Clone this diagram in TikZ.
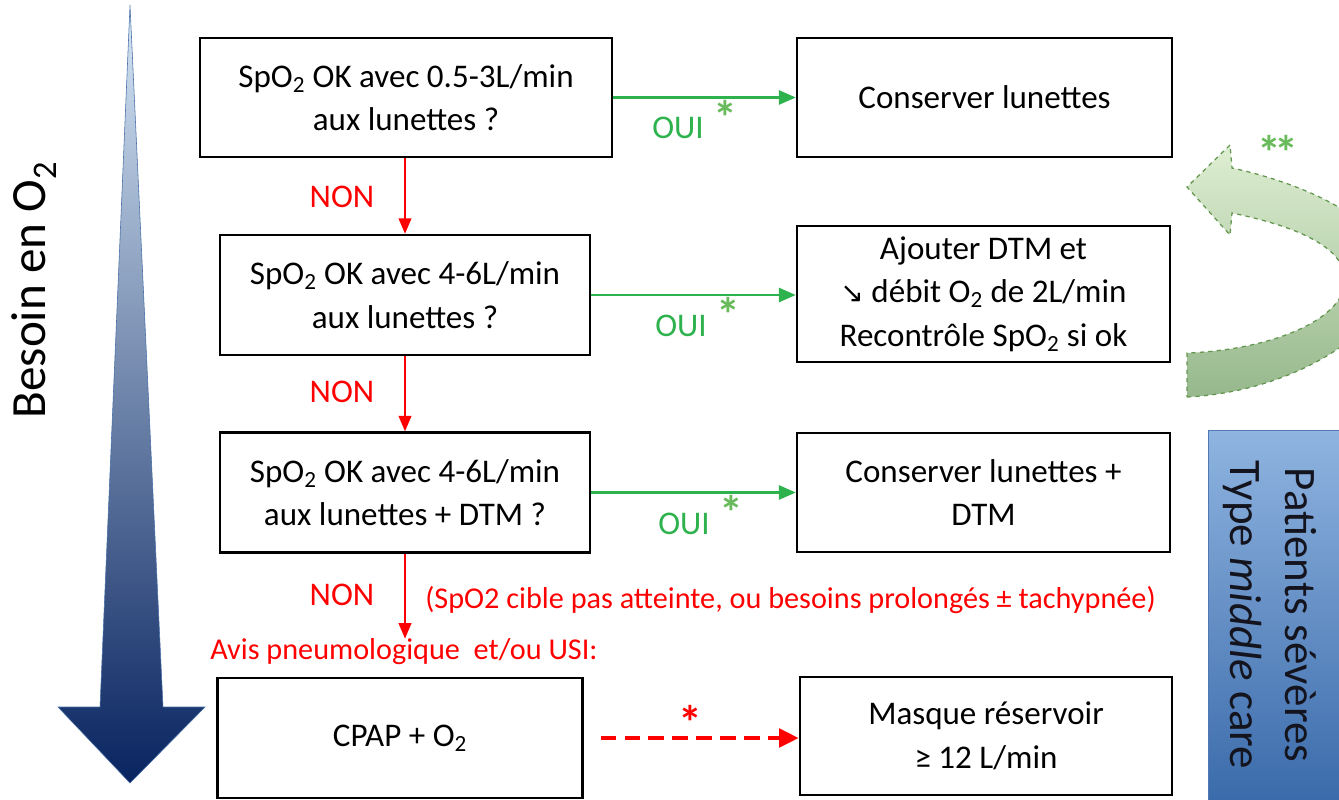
\documentclass[tikz,border=0pt]{standalone}
\usepackage{fontspec}
\setmainfont{Carlito}
\newfontfamily\arrowfont{DejaVu Sans}
\usetikzlibrary{arrows.meta}
\definecolor{ouigreen}{RGB}{46,178,78}
\definecolor{nonred}{RGB}{255,0,0}
\definecolor{stargreen}{RGB}{104,186,90}
\newcommand\bigstar{{\fontsize{34}{34}\selectfont\bfseries *}}
\tikzset{%
  box/.style={draw, line width=1.7pt, fill=white, align=center, inner sep=0pt,
    font=\fontsize{23.5}{31}\selectfont},
  yes/.style={draw=ouigreen, line width=1.8pt, -{Triangle[length=12pt,width=10pt]}},
  no/.style={draw=nonred, line width=1.4pt, -{Triangle[length=11pt,width=9pt]}},
  ouilabel/.style={text=ouigreen, anchor=base west, inner sep=0pt,
    font=\fontsize{23.5}{28}\selectfont},
  nonlabel/.style={text=nonred, inner sep=0pt, font=\fontsize{23.5}{28}\selectfont},
  redtext/.style={text=nonred, inner sep=0pt, anchor=west,
    font=\fontsize{21.5}{26}\selectfont}
}

\begin{document}
\begin{tikzpicture}[x=0.025cm, y=-0.025cm]
  \useasboundingbox (0,0) rectangle (1339,800);

  % left gradient arrow
  \shade[draw={rgb,255:red,70;green,110;blue,165}, line width=0.4pt,
    top color={rgb,255:red,214;green,230;blue,245},
    middle color={rgb,255:red,160;green,190;blue,222},
    bottom color={rgb,255:red,8;green,36;blue,96}]
    (130,5) -- (163,707) -- (205,707) -- (130,783) -- (58,707) -- (100,707) -- cycle;
  \node (besoin) [rotate=90, font=\fontsize{35}{40}\selectfont] at (34,290)
    {Besoin en O\textsubscript{2}};

  % questions
  \node (b1) [box, minimum width=10.3cm, minimum height=2.975cm] at (406,97.5)
    {SpO\textsubscript{2} OK avec 0.5-3L/min\\aux lunettes ?};
  \node (b2) [box, minimum width=9.25cm, minimum height=3cm] at (405,295)
    {SpO\textsubscript{2} OK avec 4-6L/min\\aux lunettes ?};
  \node (b3) [box, minimum width=9.25cm, minimum height=3cm] at (405,492.5)
    {SpO\textsubscript{2} OK avec 4-6L/min\\aux lunettes + DTM ?};
  \node (b4) [box, minimum width=9.125cm, minimum height=3cm] at (400,738)
    {CPAP + O\textsubscript{2}};

  % answers
  \node (r1) [box, minimum width=9.375cm, minimum height=2.975cm] at (984.5,97.5)
    {Conserver lunettes};
  \node (r2) [box, minimum width=9.325cm, minimum height=3.4cm] at (983.5,294)
    {Ajouter DTM et\\{\arrowfont\fontsize{20}{28}\selectfont ↘} débit O\textsubscript{2} de 2L/min\\Recontrôle SpO\textsubscript{2} si ok};
  \node (r3) [box, minimum width=9.325cm, minimum height=2.975cm] at (983.5,492.5)
    {Conserver lunettes +\\DTM};
  \node (r4) [box, minimum width=9.3cm, minimum height=2.95cm] at (986,736)
    {Masque réservoir\\≥ 12 L/min};

  \draw[yes] (b1.east) -- (r1.west);
  \draw[yes] (b2.east) -- (r2.west |- b2.east);
  \draw[yes] (b3.east) -- (r3.west);
  \node (o1) [ouilabel] at (652,139) {OUI\hspace{0.3em}\raisebox{3pt}{\textcolor{stargreen}{\bigstar}}};
  \node (o2) [ouilabel] at (655,336) {OUI\hspace{0.3em}\raisebox{3pt}{\textcolor{stargreen}{\bigstar}}};
  \node (o3) [ouilabel] at (658,534) {OUI\hspace{0.3em}\raisebox{3pt}{\textcolor{stargreen}{\bigstar}}};

  \draw[no] (b1.south -| 405,0) -- (b2.north -| 405,0);
  \draw[no] (b2.south) -- (b3.north);
  \node (n1) [nonlabel] at (342,197) {NON};
  \node (n2) [nonlabel] at (342,392) {NON};
  \node (n3) [nonlabel] at (342,595) {NON};

  \node (note) [redtext] at (425,600)
    {(SpO2 cible pas atteinte, ou besoins prolongés ± tachypnée)};
  \node (avis) [redtext] at (210,652) {Avis pneumologique\ \ et/ou USI:};
  \draw[no] (b3.south) -- (b3.south |- avis.north);

  \draw[draw=nonred, line width=3pt, dash pattern=on 11pt off 6pt,
    -{Triangle[length=14pt,width=13pt]}, shorten <=12pt] (b4.east) -- (r4.west |- b4.east);
  \node (s4) [text=nonred] at (690,722) {\bigstar};

  % curved return arrow
  \begin{scope}
    \clip (0,0) rectangle (1339,800);
    \shade[draw={rgb,255:red,100;green,150;blue,80}, dashed, line width=0.9pt,
      top color={rgb,255:red,222;green,238;blue,210},
      bottom color={rgb,255:red,150;green,184;blue,140}]
      (1187,397) .. controls (1290,392) and (1382,335) .. (1390,282)
      .. controls (1398,225) and (1310,185) .. (1232,168)
      -- (1230,145) -- (1187,187) -- (1230,235) -- (1232,213)
      .. controls (1290,225) and (1345,245) .. (1345,280)
      .. controls (1345,320) and (1270,350) .. (1187,353) -- cycle;
  \end{scope}
  \node (ss) [text=stargreen] at (1278,152) {\bigstar\hspace{-5pt}\bigstar};

  % patients box
  \shade[draw={rgb,255:red,80;green,120;blue,180}, line width=0.5pt,
    top color={rgb,255:red,143;green,180;blue,224},
    bottom color={rgb,255:red,58;green,106;blue,170}]
    (1208,430) rectangle (1345,805);
  \node (patients) [rotate=-90, align=center, text={rgb,255:red,20;green,20;blue,30},
    font=\fontsize{32}{39}\selectfont] at (1270,615)
    {Patients sévères\\Type \textit{middle} care};
\end{tikzpicture}
\end{document}
